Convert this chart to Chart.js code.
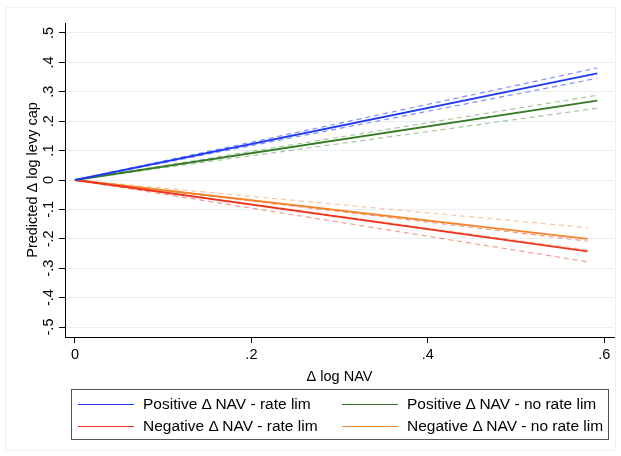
<!DOCTYPE html>
<html>
<head>
<meta charset="utf-8">
<script src="https://cdn.jsdelivr.net/npm/chart.js@4"></script>
<style>
  html, body { margin: 0; padding: 0; background: #fff; }
  #wrap { position: relative; width: 621px; height: 456px; }
  #frame { position: absolute; left: 5px; top: 7px; width: 609px; height: 442px; border: 1px solid #eef0f2; pointer-events: none; }
  #legend {
    position: absolute; left: 71px; top: 389px; width: 536px; height: 49px;
    border: 1px solid #555; font: 15.5px "Liberation Sans", Arial, sans-serif; color: #000;
  }
  .item { position: absolute; height: 20px; line-height: 20px; white-space: nowrap; }
  .item .swatch { position: absolute; left: 0; top: 10px; width: 56px; height: 0; border-top: 1.5px solid; }
  .item .txt { position: absolute; left: 65px; top: 0; }
</style>
</head>
<body>
<div id="wrap">
  <canvas id="chart" width="621" height="456"></canvas>
  <div id="frame"></div>
  <div id="legend"></div>
</div>
<script>
// ── data ──────────────────────────────────────────────────────────
const seriesNames = [
  "Positive \u0394 NAV - rate lim",
  "Positive \u0394 NAV - no rate lim",
  "Negative \u0394 NAV - rate lim",
  "Negative \u0394 NAV - no rate lim"
];
const seriesColors = ["#1f3af5", "#337a22", "#ee3520", "#f5832a"];
const bandColors   = ["rgba(40,70,250,0.6)", "rgba(60,130,40,0.45)", "rgba(240,70,50,0.55)", "rgba(248,140,70,0.5)"];

// Δ log NAV at start / end of each line
const navPos = [0, 0.592];
const navNeg = [0, 0.581];

// predicted Δ log levy cap (fit, lower CI, upper CI)
const posRateFit   = [0,  0.363];
const posRateLo    = [0,  0.346];
const posRateHi    = [0,  0.381];
const posNoRateFit = [0,  0.270];
const posNoRateLo  = [0,  0.244];
const posNoRateHi  = [0,  0.288];
const negRateFit   = [0, -0.243];
const negRateLo    = [0, -0.278];
const negRateHi    = [0, -0.208];
const negNoRateFit = [0, -0.200];
const negNoRateLo  = [0, -0.238];
const negNoRateHi  = [0, -0.162];

const xTicks      = [0, 0.2, 0.4, 0.6];
const xTickLabels = ["0", ".2", ".4", ".6"];
const yTicks      = [-0.5, -0.4, -0.3, -0.2, -0.1, 0, 0.1, 0.2, 0.3, 0.4, 0.5];
const yTickLabels = ["-.5", "-.4", "-.3", "-.2", "-.1", "0", ".1", ".2", ".3", ".4", ".5"];

// ── helpers ──────────────────────────────────────────────────────
const pts = (xs, ys) => xs.map((x, i) => ({ x, y: ys[i] }));

function solid(i, xs, ys) {
    return {
        label: seriesNames[i], data: pts(xs, ys),
        borderColor: seriesColors[i], borderWidth: 1.8,
        pointRadius: 0, fill: false
    };
}
function band(i, xs, ys) {
    return {
        label: "", data: pts(xs, ys),
        borderColor: bandColors[i], borderWidth: 1.2, borderDash: [5, 4],
        pointRadius: 0, fill: false
    };
}

Chart.defaults.font.family = "'Liberation Sans', Arial, sans-serif";
Chart.defaults.font.size   = 14.5;
Chart.defaults.color       = "#000";

new Chart(document.getElementById("chart"), {
    type: "line",
    data: {
        datasets: [
            solid(0, navPos, posRateFit),
            solid(1, navPos, posNoRateFit),
            solid(2, navNeg, negRateFit),
            solid(3, navNeg, negNoRateFit),
            band(0, navPos, posRateLo),   band(0, navPos, posRateHi),
            band(1, navPos, posNoRateLo), band(1, navPos, posNoRateHi),
            band(2, navNeg, negRateLo),   band(2, navNeg, negRateHi),
            band(3, navNeg, negNoRateLo), band(3, navNeg, negNoRateHi)
        ]
    },
    options: {
        responsive: false,
        animation: false,
        layout: { padding: { left: 0, top: 23, right: 7, bottom: 69 } },
        plugins: { legend: { display: false }, tooltip: { enabled: false } },
        scales: {
            x: {
                type: "linear",
                min: -0.0113, max: 0.611,
                afterBuildTicks: (s) => { s.ticks = xTicks.map(v => ({ value: v })); },
                afterFit: (s) => { s.height = 50; },
                ticks: { padding: 3, maxRotation: 0, callback: (v, i) => xTickLabels[i] },
                grid: { drawOnChartArea: false, drawTicks: true, tickLength: 6, tickColor: "#000" },
                border: { display: true, color: "#000", width: 1 },
                title: { display: true, text: "\u0394 log NAV", padding: { top: 0, bottom: 1 } }
            },
            y: {
                type: "linear",
                min: -0.534, max: 0.534,
                afterBuildTicks: (s) => { s.ticks = yTicks.map(v => ({ value: v })); },
                afterFit: (s) => { s.width = 65; },
                ticks: {
                    padding: 2, minRotation: 90, maxRotation: 90, crossAlign: "center",
                    callback: (v, i) => yTickLabels[i]
                },
                grid: { color: "#e8eef2", lineWidth: 1, tickLength: 6, tickColor: "#000" },
                border: { display: true, color: "#000", width: 1 },
                title: { display: true, text: "Predicted \u0394 log levy cap", padding: { top: 24, bottom: 0 } }
            }
        }
    }
});

// ── legend (HTML, two columns) ───────────────────────────────────
const legend = document.getElementById("legend");
const cells = [[6, 4], [270, 4], [6, 26], [270, 26]];
const legendOrder = [0, 1, 2, 3];
legendOrder.forEach((s, k) => {
    const d = document.createElement("div");
    d.className = "item";
    d.style.left = cells[k][0] + "px";
    d.style.top  = cells[k][1] + "px";
    d.innerHTML = `<span class="swatch" style="border-color:${seriesColors[s]}"></span><span class="txt">${seriesNames[s]}</span>`;
    legend.appendChild(d);
});
</script>
</body>
</html>
